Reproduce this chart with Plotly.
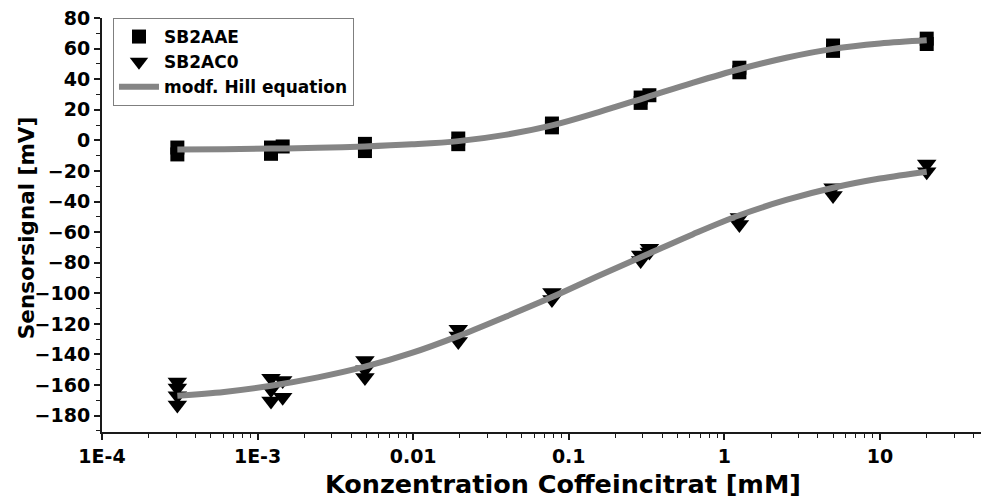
import plotly.graph_objects as go

# Measured sensor signals (mV) for the two sensor types
aae_conc = [3.05e-4, 3.05e-4, 1.22e-3, 1.22e-3, 1.45e-3, 4.9e-3, 4.9e-3,
            0.0195, 0.0195, 0.078, 0.078, 0.29, 0.29, 0.33,
            1.25, 1.25, 5.0, 5.0, 20.0, 20.0]
aae_signal = [-4.7, -9.2, -4.7, -8.8, -4.0, -2.3, -7.0,
              1.2, -2.5, 11.0, 8.5, 28.0, 24.5, 29.5,
              47.5, 44.5, 62.0, 58.5, 66.5, 63.0]

ac0_conc = [3.05e-4, 3.05e-4, 3.05e-4, 3.05e-4, 1.22e-3, 1.22e-3, 1.22e-3,
            1.45e-3, 1.45e-3, 4.9e-3, 4.9e-3, 4.9e-3,
            0.0195, 0.0195, 0.0195, 0.078, 0.078, 0.29, 0.29, 0.33, 0.33,
            1.25, 1.25, 5.0, 5.0, 20.0, 20.0]
ac0_signal = [-158, -162, -167, -173, -155.5, -163, -170.5,
              -157, -168, -144, -150, -155,
              -123.5, -128, -131.5, -99.5, -104, -75, -78.5, -70.5, -73,
              -50.5, -55, -31, -36, -15.5, -20.5]

# Fitted curves (modified Hill equation), sampled along the concentration range
fit_conc = [3.05e-4, 6.1e-4, 1.22e-3, 2.44e-3, 4.9e-3, 9.8e-3, 0.0195, 0.039,
            0.078, 0.156, 0.3125, 0.625, 1.25, 2.5, 5.0, 10.0, 20.0]
fit_aae = [-6.0, -5.8, -5.4, -4.9, -4.0, -2.6, -0.5, 3.6,
           9.8, 18.5, 28.0, 37.6, 46.5, 54.0, 59.8, 63.3, 65.4]
fit_ac0 = [-167.0, -164.5, -160.5, -155.0, -148.0, -139.0, -128.0, -115.5,
           -102.5, -88.5, -75.0, -61.5, -49.0, -39.0, -31.0, -25.0, -20.5]

x_tickvals = [1e-4, 1e-3, 0.01, 0.1, 1, 10]
x_ticktext = ["1E-4", "1E-3", "0.01", "0.1", "1", "10"]

FONT = "DejaVu Sans"
AXIS_COLOR = "#1a1a1a"
FIT_COLOR = "#858585"

fig = go.Figure()

fig.add_trace(go.Scatter(
    x=aae_conc, y=aae_signal, mode="markers", name="SB2AAE",
    marker=dict(symbol="square", size=14, color="black", line=dict(width=0)),
))
fig.add_trace(go.Scatter(
    x=ac0_conc, y=ac0_signal, mode="markers", name="SB2AC0",
    marker=dict(symbol="triangle-down", size=17, color="black", line=dict(width=0)),
))
fig.add_trace(go.Scatter(
    x=fit_conc, y=fit_aae, mode="lines", name="modf. Hill equation",
    line=dict(color=FIT_COLOR, width=6, shape="spline"),
))
fig.add_trace(go.Scatter(
    x=fit_conc, y=fit_ac0, mode="lines", name="modf. Hill equation",
    line=dict(color=FIT_COLOR, width=6, shape="spline"), showlegend=False,
))

tick_font = dict(family=FONT, size=19, color="black", weight="bold")
title_font = dict(family=FONT, color="black", weight="bold")

fig.update_layout(
    width=981, height=501,
    margin=dict(l=102, r=0, t=18, b=69, autoexpand=False),
    paper_bgcolor="white", plot_bgcolor="white",
    showlegend=True,
    legend=dict(
        x=0.0125, y=1.0, xanchor="left", yanchor="top",
        bgcolor="white", bordercolor="#7f7f7f", borderwidth=1,
        font=dict(family=FONT, size=17, color="black", weight="bold"),
        itemwidth=40, tracegroupgap=0,
    ),
    xaxis=dict(
        type="log", range=[-4, 1.65], automargin=False,
        tickvals=x_tickvals, ticktext=x_ticktext,
        ticks="outside", ticklen=6, tickwidth=1.5, tickcolor=AXIS_COLOR,
        minor=dict(ticks="outside", ticklen=4, tickwidth=1.2,
                   tickcolor=AXIS_COLOR, dtick="D1", showgrid=False),
        showline=True, linecolor=AXIS_COLOR, linewidth=2,
        showgrid=False, zeroline=False, mirror=False,
        tickfont=tick_font,
    ),
    yaxis=dict(
        range=[-190.7, 80], tick0=0, dtick=20, automargin=False,
        ticks="outside", ticklen=6, tickwidth=1.5, tickcolor=AXIS_COLOR,
        minor=dict(ticks="outside", ticklen=4, tickwidth=1.2,
                   tickcolor=AXIS_COLOR, dtick=10, showgrid=False),
        showline=True, linecolor=AXIS_COLOR, linewidth=2,
        showgrid=False, zeroline=False, mirror=False,
        tickfont=tick_font,
    ),
    annotations=[
        dict(text="Sensorsignal [mV]", textangle=-90,
             xref="paper", yref="paper", x=-0.085, y=0.493,
             xanchor="center", yanchor="middle", showarrow=False,
             font=dict(title_font, size=21.5)),
        dict(text="Konzentration Coffeincitrat [mM]",
             xref="paper", yref="paper", x=0.5245, y=-0.1257,
             xanchor="center", yanchor="middle", showarrow=False,
             font=dict(title_font, size=25.5)),
    ],
)

fig.write_html("out.html")
